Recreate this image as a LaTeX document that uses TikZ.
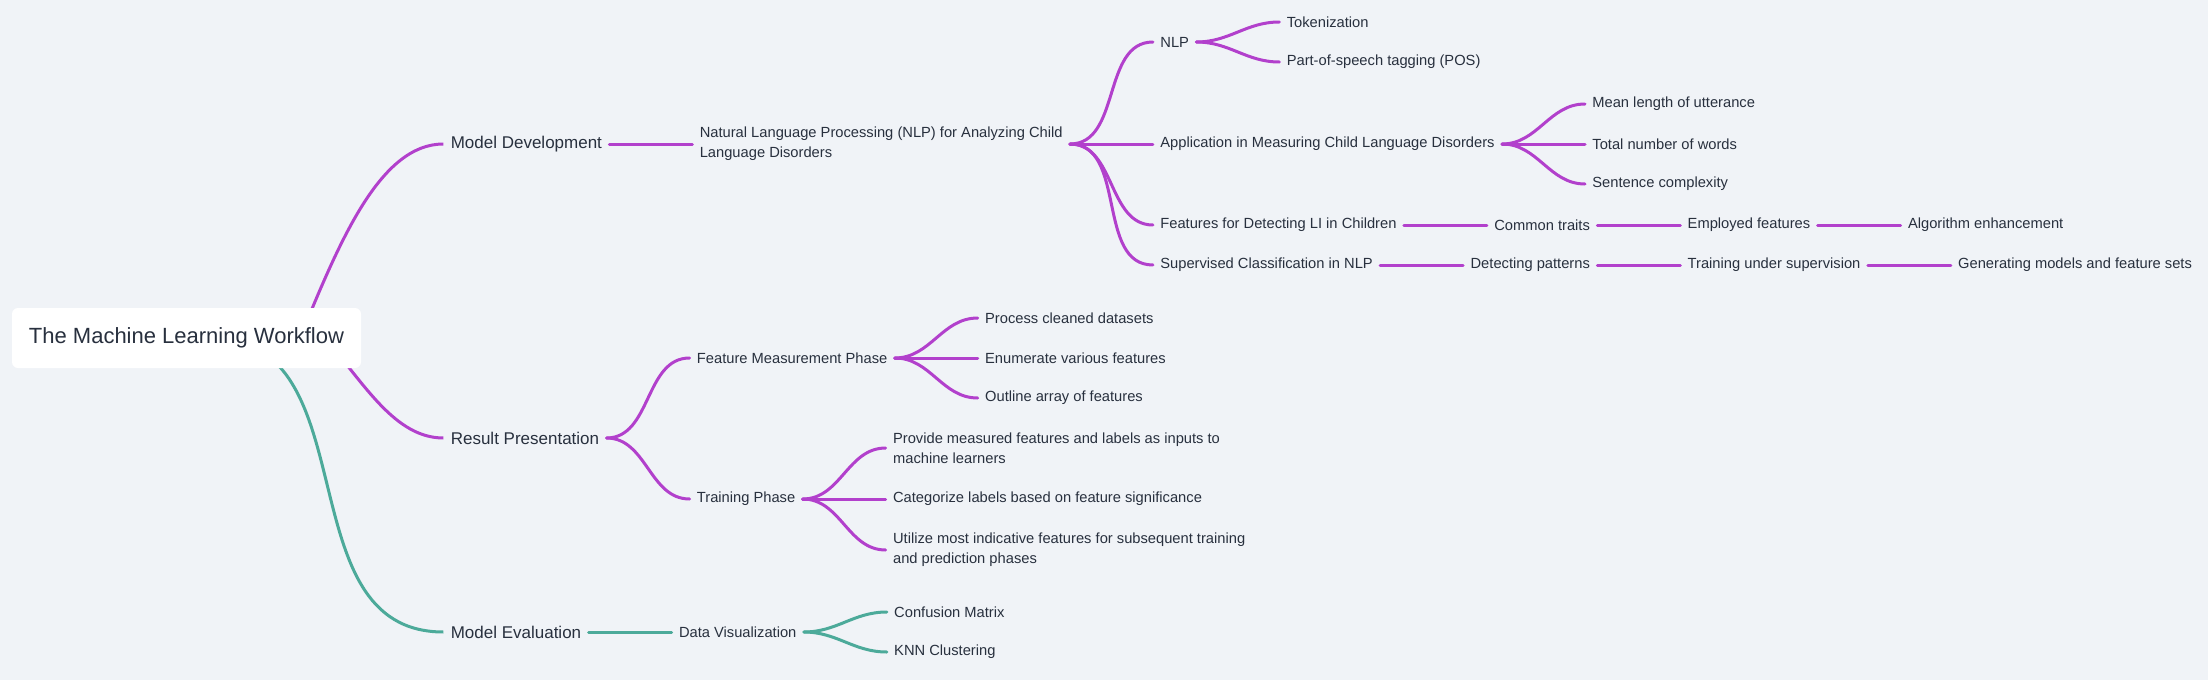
\documentclass[tikz,border=0pt]{standalone}
\usepackage{fontspec}
\setmainfont{Liberation Sans}
\usetikzlibrary{positioning,backgrounds}
\definecolor{vio}{RGB}{178,64,204}
\definecolor{grn}{RGB}{76,170,154}
\definecolor{txt}{RGB}{40,48,62}
\definecolor{bgc}{RGB}{240,243,247}
\tikzset{
  rootbox/.style={rectangle, fill=white, rounded corners=3pt, minimum width=174.5pt,
    minimum height=30pt, font=\fontsize{11}{13}\selectfont, text=txt},
  mid/.style={inner xsep=3.5pt, inner ysep=2pt, font=\fontsize{8.5}{10}\selectfont, text=txt},
  sml/.style={inner xsep=3.5pt, inner ysep=2pt, align=left,
    font=\fontsize{7.35}{10}\selectfont, text=txt},
  lnk/.style={draw=vio, line width=1.5pt, line cap=round, out=0, in=180},
  lnkg/.style={lnk, draw=grn}
}
\begin{document}
\begin{tikzpicture}[x=0.5pt,y=-0.5pt,node distance=41.5pt]

  \node[rootbox] (root) at (186.5,338) {The Machine Learning Workflow};
  \coordinate (rdev) at (300,338);
  \coordinate (rres) at (325,338);
  \coordinate (reva) at (211,338);

  \node[mid] (dev) [right=41pt of root,yshift=97pt]   {Model Development};
  \node[mid] (res) [right=41pt of root,yshift=-50pt]  {Result Presentation};
  \node[mid] (eva) [right=41pt of root,yshift=-147pt] {Model Evaluation};

  % model development
  \node[sml] (nlpa) [right=of dev] {Natural Language Processing (NLP) for Analyzing Child\\Language Disorders};
  \node[sml] (nlp)  [right=of nlpa,yshift=51pt]    {NLP};
  \node[sml] (app)  [right=of nlpa]                {Application in Measuring Child Language Disorders};
  \node[sml] (feat) [right=of nlpa,yshift=-40.5pt] {Features for Detecting LI in Children};
  \node[sml] (sup)  [right=of nlpa,yshift=-60.5pt] {Supervised Classification in NLP};
  \node[sml] (tok)  [right=of nlp,yshift=10pt]  {Tokenization};
  \node[sml] (pos)  [right=of nlp,yshift=-10pt] {Part-of-speech tagging (POS)};
  \node[sml] (mlu)  [right=of app,yshift=20pt]  {Mean length of utterance};
  \node[sml] (tnw)  [right=of app]              {Total number of words};
  \node[sml] (sc)   [right=of app,yshift=-20pt] {Sentence complexity};
  \node[sml] (ct)   [right=of feat] {Common traits};
  \node[sml] (ef)   [right=of ct]   {Employed features};
  \node[sml] (ae)   [right=of ef]   {Algorithm enhancement};
  \node[sml] (dp)   [right=of sup]  {Detecting patterns};
  \node[sml] (tus)  [right=of dp]   {Training under supervision};
  \node[sml] (gm)   [right=of tus]  {Generating models and feature sets};

  % result presentation
  \node[sml] (fmp) [right=of res,yshift=40pt]    {Feature Measurement Phase};
  \node[sml] (tp)  [right=of res,yshift=-30.5pt] {Training Phase};
  \node[sml] (pcd) [right=of fmp,yshift=20pt]  {Process cleaned datasets};
  \node[sml] (evf) [right=of fmp]              {Enumerate various features};
  \node[sml] (oaf) [right=of fmp,yshift=-20pt] {Outline array of features};
  \node[sml] (pmf) [right=of tp,yshift=25.5pt]  {Provide measured features and labels as inputs to\\machine learners};
  \node[sml] (cl)  [right=of tp]                {Categorize labels based on feature significance};
  \node[sml] (umi) [right=of tp,yshift=-25.5pt] {Utilize most indicative features for subsequent training\\and prediction phases};

  % model evaluation
  \node[sml] (dv)  [right=of eva]              {Data Visualization};
  \node[sml] (cm)  [right=of dv,yshift=10pt]   {Confusion Matrix};
  \node[sml] (knn) [right=of dv,yshift=-10pt]  {KNN Clustering};

  \begin{scope}[on background layer]
    \fill[bgc] (0,0) rectangle (2208,680);
    \draw[draw=vio,line width=1.5pt] (rdev) .. controls +(40,-98) and +(-63,0) .. (dev.west);
    \draw[draw=vio,line width=1.5pt] (rres) .. controls +(40,47) and +(-48,0) .. (res.west);
    \draw[draw=grn,line width=1.5pt] (reva) .. controls +(160,0) and +(-160,0) .. (eva.west);
  \end{scope}

  \path (dev.east) edge[lnk] (nlpa.west)
  (nlpa.east) edge[lnk] (nlp.west)
  (nlpa.east) edge[lnk] (app.west)
  (nlpa.east) edge[lnk] (feat.west)
  (nlpa.east) edge[lnk] (sup.west)
  (nlp.east) edge[lnk] (tok.west)
  (nlp.east) edge[lnk] (pos.west)
  (app.east) edge[lnk] (mlu.west)
  (app.east) edge[lnk] (tnw.west)
  (app.east) edge[lnk] (sc.west)
  (feat.east) edge[lnk] (ct.west)
  (ct.east) edge[lnk] (ef.west)
  (ef.east) edge[lnk] (ae.west)
  (sup.east) edge[lnk] (dp.west)
  (dp.east) edge[lnk] (tus.west)
  (tus.east) edge[lnk] (gm.west);

  \path (res.east) edge[lnk] (fmp.west)
  (res.east) edge[lnk] (tp.west)
  (fmp.east) edge[lnk] (pcd.west)
  (fmp.east) edge[lnk] (evf.west)
  (fmp.east) edge[lnk] (oaf.west)
  (tp.east) edge[lnk] (pmf.west)
  (tp.east) edge[lnk] (cl.west)
  (tp.east) edge[lnk] (umi.west);

  \path (eva.east) edge[lnkg] (dv.west)
  (dv.east) edge[lnkg] (cm.west)
  (dv.east) edge[lnkg] (knn.west);
\end{tikzpicture}
\end{document}
